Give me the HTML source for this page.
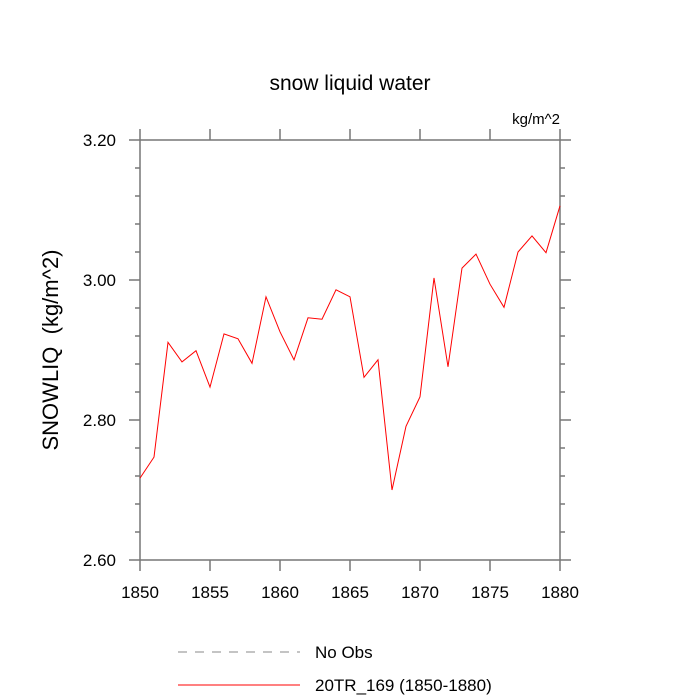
<!DOCTYPE html>
<html><head><meta charset="utf-8"><style>body{margin:0;background:#fff}svg{display:block}text{font-family:"Liberation Sans",sans-serif}</style></head>
<body>
<svg id="chart" width="700" height="700" xmlns="http://www.w3.org/2000/svg">
<text x="350" y="90" font-size="21" text-anchor="middle">snow liquid water</text>
<text x="560" y="124" font-size="15" text-anchor="end">kg/m^2</text>
<text transform="translate(58,350) rotate(-90)" font-size="22" text-anchor="middle" xml:space="preserve" style="white-space:pre">SNOWLIQ  (kg/m^2)</text>
<g id="axes"></g>
<polyline id="series" fill="none" stroke="#ff0000" stroke-width="1"/>
<g>
<line x1="178" y1="652" x2="300" y2="652" stroke="#888" stroke-dasharray="9,8"/>
<text x="315" y="658" font-size="17">No Obs</text>
<line x1="178" y1="685" x2="300" y2="685" stroke="#ff0000"/>
<text x="315" y="691" font-size="17">20TR_169 (1850-1880)</text>
</g>
</svg>
<script>
const years=[1850,1851,1852,1853,1854,1855,1856,1857,1858,1859,1860,1861,1862,1863,1864,1865,1866,1867,1868,1869,1870,1871,1872,1873,1874,1875,1876,1877,1878,1879,1880];
const values=[2.717,2.747,2.911,2.883,2.899,2.847,2.923,2.916,2.881,2.976,2.926,2.886,2.946,2.944,2.986,2.976,2.861,2.886,2.700,2.791,2.833,3.003,2.876,3.017,3.037,2.994,2.961,3.040,3.063,3.039,3.106];
const xTicks=[1850,1855,1860,1865,1870,1875,1880];
const yTicks=[2.60,2.80,3.00,3.20];
const yTickLabels=["2.60","2.80","3.00","3.20"];
const L=140,R=560,T=140,B=560;
const x=v=>L+(v-1850)/30*(R-L);
const y=v=>B-(v-2.6)/0.6*(B-T);
const ns="http://www.w3.org/2000/svg";
const ax=document.getElementById('axes');
function ln(x1,y1,x2,y2,name){const e=document.createElementNS(ns,'line');
e.setAttribute('x1',x1);e.setAttribute('y1',y1);e.setAttribute('x2',x2);e.setAttribute('y2',y2);
e.setAttribute('stroke','#777');e.setAttribute('stroke-width','1.5');


ax.appendChild(e);}
function tx(xx,yy,s,anchor,name){const e=document.createElementNS(ns,'text');
e.setAttribute('x',xx);e.setAttribute('y',yy);e.setAttribute('font-size','17');e.setAttribute('text-anchor',anchor);e.textContent=s;


ax.appendChild(e);}
ln(L,T,R,T,'plot-frame-top');ln(L,B,R,B,'plot-frame-bottom');ln(L,T,L,B,'plot-frame-left');ln(R,T,R,B,'plot-frame-right');
xTicks.forEach(v=>{ln(x(v),B,x(v),B+11,'x-tick');ln(x(v),T,x(v),T-11,'x-tick-top');tx(x(v),B+38,String(v),'middle','x-tick-label');});
yTicks.forEach((v,i)=>{ln(L,y(v),L-11,y(v),'y-tick');ln(R,y(v),R+11,y(v),'y-tick-right');tx(L-24,y(v)+6,yTickLabels[i],'end','y-tick-label');});
for(let k=0;k<=15;k++){const v=2.6+k*0.04;if(k%5===0)continue;ln(L,y(v),L-5,y(v),'y-minor-tick');ln(R,y(v),R+5,y(v),'y-minor-tick-right');}
document.getElementById('series').setAttribute('points',years.map((yr,i)=>x(yr)+','+y(values[i])).join(' '));
</script>
</body></html>
